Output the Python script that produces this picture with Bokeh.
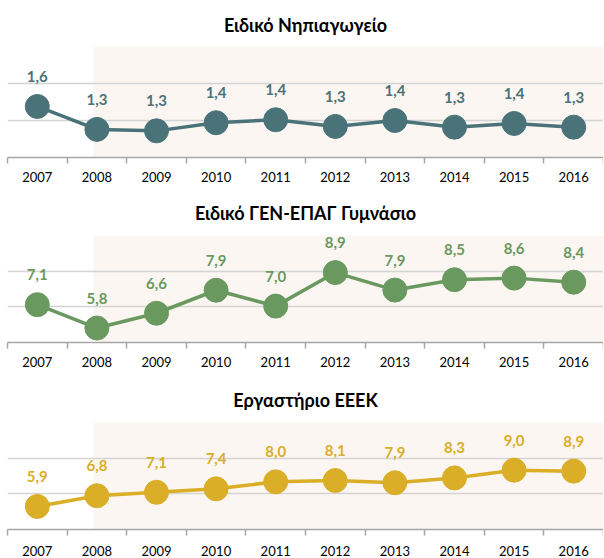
from bokeh.plotting import figure
from bokeh.layouts import column
from bokeh.models import FixedTicker, ColumnDataSource, Title
from bokeh.core.properties import value
from bokeh.embed import file_html
from bokeh.resources import INLINE

years = ["2007", "2008", "2009", "2010", "2011", "2012", "2013", "2014", "2015", "2016"]

title_1 = "Ειδικό Νηπιαγωγείο"
values_1 = [1.59, 1.28, 1.26, 1.37, 1.41, 1.32, 1.40, 1.31, 1.36, 1.31]

title_2 = "Ειδικό ΓΕΝ-ΕΠΑΓ Γυμνάσιο"
values_2 = [7.12, 5.81, 6.64, 7.93, 7.04, 8.92, 7.94, 8.52, 8.61, 8.38]

title_3 = "Εργαστήριο ΕΕΕΚ"
values_3 = [5.94, 6.84, 7.13, 7.42, 8.01, 8.12, 7.93, 8.34, 8.99, 8.91]

FONT = "Lato"
W = 603
LEFT = 7


def panel(title, vals, color, y0, y1, fig_h, top_b, frame_h, title_standoff, lab_standoff):
    n = len(years)
    xs = list(range(n))
    p = figure(width=W, height=fig_h, output_backend="svg", toolbar_location=None,
               x_range=(-0.5, n - 0.5), y_range=(y0, y1),
               min_border_left=LEFT, min_border_right=0, min_border_top=top_b,
               min_border_bottom=fig_h - top_b - frame_h)
    p.outline_line_color = None
    p.background_fill_color = "white"
    t = Title(text=title, align="center", text_font=FONT, text_font_style="bold",
              text_font_size="18px", text_color="#000000", standoff=title_standoff)
    p.add_layout(t, "above")
    # shaded period
    p.quad(left=[0.94], right=[n - 0.5], bottom=[y0], top=[y1],
           fill_color="#FBF6F2", line_color=None, level="image")
    step = (y1 - y0) / 3.0
    p.ygrid.ticker = FixedTicker(ticks=[y0 + i * step for i in range(4)])
    p.ygrid.grid_line_color = "#D4D4D4"
    p.ygrid.grid_line_width = 1.3
    p.xgrid.grid_line_color = None
    p.yaxis.visible = False
    ax = p.xaxis[0]
    ax.ticker = FixedTicker(ticks=xs, minor_ticks=[i - 0.5 for i in range(n + 1)])
    ax.major_label_overrides = {i: y for i, y in enumerate(years)}
    ax.major_tick_line_color = None
    ax.major_tick_out = 0
    ax.major_tick_in = 0
    ax.minor_tick_line_color = "#A6A6A6"
    ax.minor_tick_out = 6
    ax.minor_tick_in = 0
    ax.minor_tick_line_width = 1.5
    ax.axis_line_color = "#A6A6A6"
    ax.axis_line_width = 1.5
    ax.major_label_text_font = FONT
    ax.major_label_text_font_size = "13px"
    ax.major_label_text_color = "#000000"
    ax.major_label_standoff = lab_standoff
    src = ColumnDataSource(dict(x=xs, y=vals,
                                lab=[f"{v:.1f}".replace(".", ",") for v in vals]))
    p.line("x", "y", source=src, line_color=color, line_width=3.5)
    p.scatter("x", "y", source=src, size=24, fill_color=color, line_color=color)
    p.text("x", "y", text="lab", source=src, text_font=value(FONT), text_font_style="bold",
           text_font_size="15px", text_color=color, text_align="center",
           text_baseline="middle", y_offset=-30)
    return p


p1 = panel(title_1, values_1, "#4A7379", 0.9, 2.4, 188, 44, 113, 22, 8)
p2 = panel(title_2, values_2, "#6A9960", 5.0, 11.0, 187, 44, 110, 23, 8)
p3 = panel(title_3, values_3, "#DAAE26", 4.0, 13.0, 183, 43, 114, 23, 10)

layout = column(p1, p2, p3, spacing=0)
open("out.html", "w").write(file_html(layout, INLINE))
